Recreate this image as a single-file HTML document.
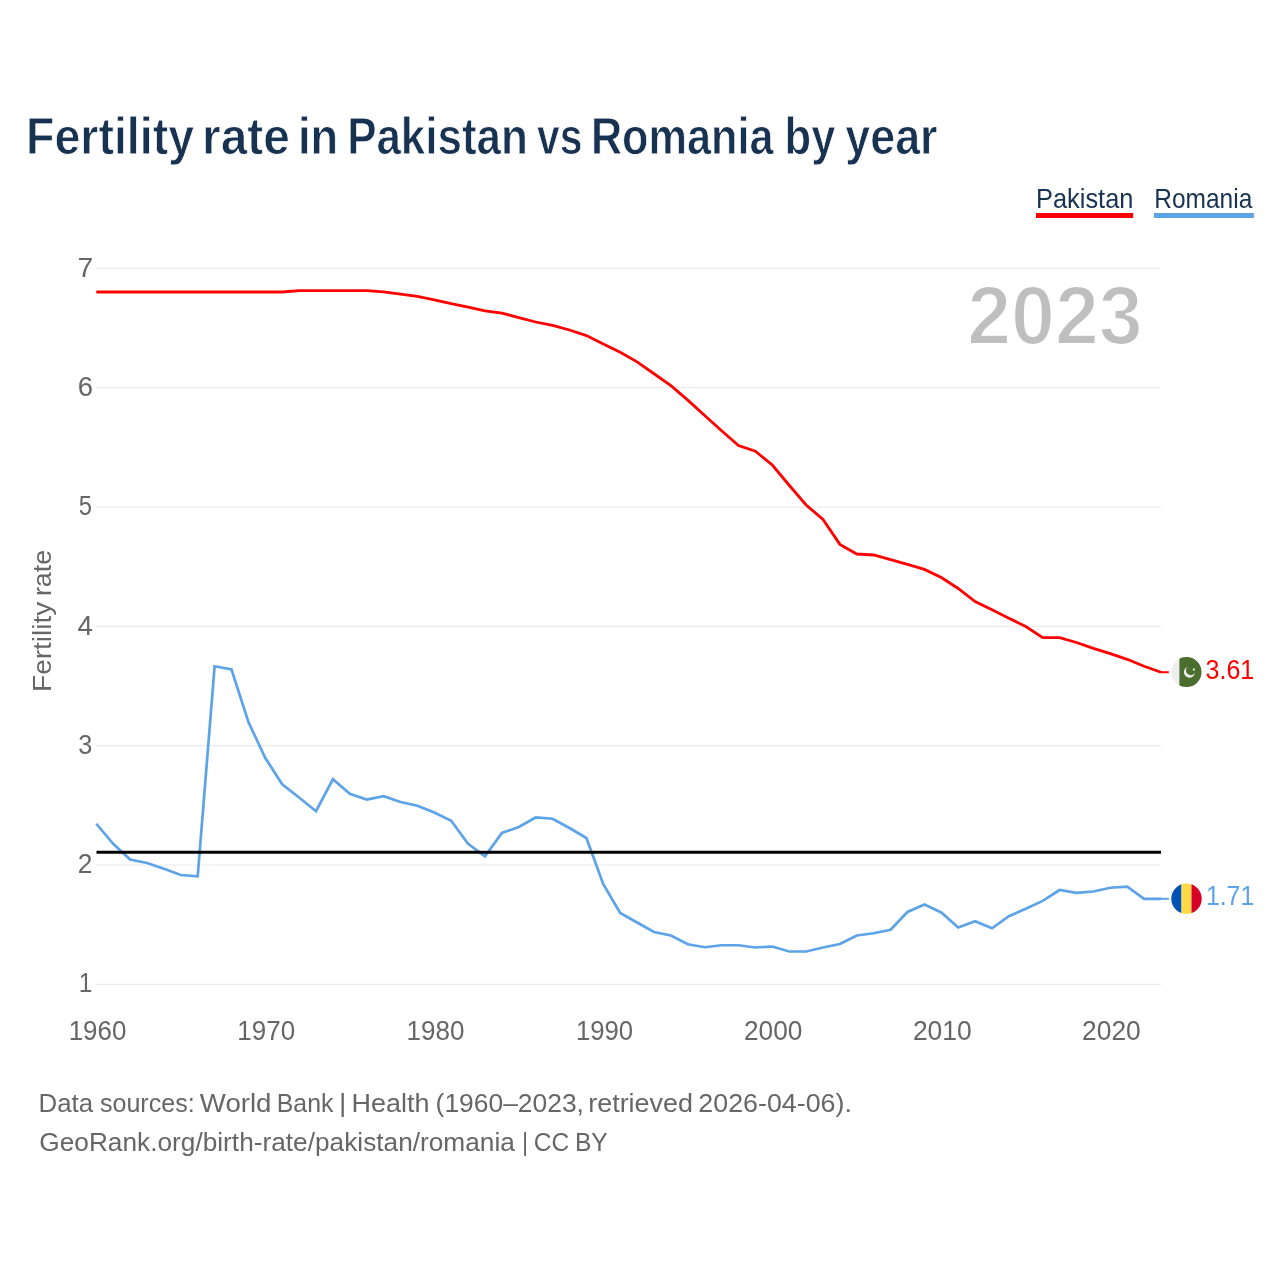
<!DOCTYPE html>
<html><head><meta charset="utf-8">
<style>
html,body{margin:0;padding:0;background:#fff;width:1280px;height:1280px;overflow:hidden}
svg{display:block;will-change:transform}
text{font-family:"Liberation Sans",sans-serif}
</style></head>
<body>
<svg width="1280" height="1280" viewBox="0 0 1280 1280">
<rect width="1280" height="1280" fill="#fff"/>
<text x="25.97" y="154.15" font-size="52" font-weight="bold" fill="#183251" textLength="168.15" lengthAdjust="spacingAndGlyphs" stroke="#fff" stroke-width="0.8">Fertility</text>
<text x="202.09" y="154.15" font-size="52" font-weight="bold" fill="#183251" textLength="87.71" lengthAdjust="spacingAndGlyphs" stroke="#fff" stroke-width="0.8">rate</text>
<text x="298.04" y="154.15" font-size="52" font-weight="bold" fill="#183251" textLength="40.12" lengthAdjust="spacingAndGlyphs" stroke="#fff" stroke-width="0.8">in</text>
<text x="347.14" y="154.15" font-size="52" font-weight="bold" fill="#183251" textLength="180.68" lengthAdjust="spacingAndGlyphs" stroke="#fff" stroke-width="0.8">Pakistan</text>
<text x="537.00" y="154.15" font-size="52" font-weight="bold" fill="#183251" textLength="45.38" lengthAdjust="spacingAndGlyphs" stroke="#fff" stroke-width="0.8">vs</text>
<text x="590.89" y="154.15" font-size="52" font-weight="bold" fill="#183251" textLength="182.62" lengthAdjust="spacingAndGlyphs" stroke="#fff" stroke-width="0.8">Romania</text>
<text x="784.57" y="154.15" font-size="52" font-weight="bold" fill="#183251" textLength="50.84" lengthAdjust="spacingAndGlyphs" stroke="#fff" stroke-width="0.8">by</text>
<text x="845.26" y="154.15" font-size="52" font-weight="bold" fill="#183251" textLength="92.32" lengthAdjust="spacingAndGlyphs" stroke="#fff" stroke-width="0.8">year</text>
<text x="1036.07" y="207.8" font-size="27.3" fill="#183251" textLength="97.33" lengthAdjust="spacingAndGlyphs">Pakistan</text>
<rect x="1036" y="213" width="97.2" height="5" fill="#ff0000"/>
<text x="1154.29" y="207.8" font-size="27.3" fill="#183251" textLength="98.00" lengthAdjust="spacingAndGlyphs">Romania</text>
<rect x="1154" y="213" width="99.9" height="5" fill="#5ca3e8"/>
<g stroke="#ebebeb" stroke-width="1.2"><line x1="96" y1="268.4" x2="1161" y2="268.4"/><line x1="96" y1="387.7" x2="1161" y2="387.7"/><line x1="96" y1="507.1" x2="1161" y2="507.1"/><line x1="96" y1="626.4" x2="1161" y2="626.4"/><line x1="96" y1="745.7" x2="1161" y2="745.7"/><line x1="96" y1="865.0" x2="1161" y2="865.0"/><line x1="96" y1="984.4" x2="1161" y2="984.4"/></g>
<text x="77.49" y="277.0" font-size="27.5" fill="#666666" textLength="15.68" lengthAdjust="spacingAndGlyphs">7</text>
<text x="77.73" y="396.17" font-size="27.5" fill="#666666" textLength="15.27" lengthAdjust="spacingAndGlyphs">6</text>
<text x="78.65" y="515.34" font-size="27.5" fill="#666666" textLength="13.23" lengthAdjust="spacingAndGlyphs">5</text>
<text x="77.48" y="634.51" font-size="27.5" fill="#666666" textLength="15.31" lengthAdjust="spacingAndGlyphs">4</text>
<text x="78.15" y="753.68" font-size="27.5" fill="#666666" textLength="14.05" lengthAdjust="spacingAndGlyphs">3</text>
<text x="77.68" y="872.85" font-size="27.5" fill="#666666" textLength="14.71" lengthAdjust="spacingAndGlyphs">2</text>
<text x="78.87" y="992.02" font-size="27.5" fill="#666666" textLength="13.57" lengthAdjust="spacingAndGlyphs">1</text>
<g transform="rotate(-90)">
<text x="-691.94" y="50.75" font-size="25.6" fill="#666666" textLength="90.10" lengthAdjust="spacingAndGlyphs">Fertility</text>
<text x="-596.14" y="50.75" font-size="25.6" fill="#666666" textLength="46.20" lengthAdjust="spacingAndGlyphs">rate</text>
</g>
<text x="68.66" y="1039.9" font-size="27.3" fill="#666666" textLength="57.67" lengthAdjust="spacingAndGlyphs">1960</text>
<text x="237.35" y="1039.9" font-size="27.3" fill="#666666" textLength="57.78" lengthAdjust="spacingAndGlyphs">1970</text>
<text x="406.55" y="1039.9" font-size="27.3" fill="#666666" textLength="57.83" lengthAdjust="spacingAndGlyphs">1980</text>
<text x="575.97" y="1039.9" font-size="27.3" fill="#666666" textLength="57.15" lengthAdjust="spacingAndGlyphs">1990</text>
<text x="743.94" y="1039.9" font-size="27.3" fill="#666666" textLength="58.40" lengthAdjust="spacingAndGlyphs">2000</text>
<text x="912.88" y="1039.9" font-size="27.3" fill="#666666" textLength="58.87" lengthAdjust="spacingAndGlyphs">2010</text>
<text x="1082.08" y="1039.9" font-size="27.3" fill="#666666" textLength="58.67" lengthAdjust="spacingAndGlyphs">2020</text>
<text x="967.24" y="343.6" font-size="83.2" font-weight="bold" fill="#bfbfbf" textLength="175.49" lengthAdjust="spacingAndGlyphs" stroke="#fff" stroke-width="2.2">2023</text>
<polyline points="96.30,292.00 113.20,292.00 130.10,292.00 147.00,292.00 163.90,292.00 180.80,292.00 197.70,292.00 214.60,292.00 231.50,292.00 248.40,292.00 265.30,292.00 282.20,292.00 299.10,290.60 316.00,290.60 332.90,290.60 349.80,290.60 366.70,290.60 383.60,291.90 400.50,294.10 417.40,296.30 434.30,299.95 451.20,303.60 468.10,307.20 485.00,310.90 501.90,313.20 518.80,317.60 535.70,322.00 552.60,325.40 569.50,330.00 586.40,335.60 603.30,344.10 620.20,352.25 637.10,361.90 654.00,373.75 670.90,385.60 687.80,400.10 704.70,415.50 721.60,430.70 738.50,445.60 755.40,451.25 772.30,465.00 789.20,485.25 806.10,505.00 823.00,519.40 839.90,544.40 856.80,554.00 873.70,555.00 890.60,559.60 907.50,564.40 924.40,569.40 941.30,577.50 958.20,588.50 975.10,601.50 992.00,609.80 1008.90,618.20 1025.80,626.50 1042.70,637.60 1059.60,637.60 1076.50,642.50 1093.40,648.40 1110.30,653.60 1127.20,659.30 1144.10,666.25 1161.00,672.20" fill="none" stroke="#ff0000" stroke-width="2.8"/>
<polyline points="96.30,823.75 113.20,843.75 130.10,859.50 147.00,863.00 163.90,868.75 180.80,875.00 197.70,876.25 214.60,666.25 231.50,669.50 248.40,722.00 265.30,758.00 282.20,784.25 299.10,797.50 316.00,811.25 332.90,779.25 349.80,793.75 366.70,799.50 383.60,796.25 400.50,802.00 417.40,805.75 434.30,812.50 451.20,820.75 468.10,843.75 485.00,856.25 501.90,833.00 518.80,827.00 535.70,817.50 552.60,818.75 569.50,828.00 586.40,838.00 603.30,884.25 620.20,913.00 637.10,922.50 654.00,932.00 670.90,935.50 687.80,944.25 704.70,947.25 721.60,945.25 738.50,945.25 755.40,947.50 772.30,946.50 789.20,951.50 806.10,951.50 823.00,947.50 839.90,944.00 856.80,935.50 873.70,933.25 890.60,929.75 907.50,912.00 924.40,904.50 941.30,912.50 958.20,927.50 975.10,921.25 992.00,928.30 1008.90,916.25 1025.80,908.75 1042.70,900.90 1059.60,890.00 1076.50,892.80 1093.40,891.50 1110.30,887.75 1127.20,886.60 1144.10,898.80 1161.00,898.80" fill="none" stroke="#5ca3e8" stroke-width="2.7"/>
<line x1="96.5" y1="852.3" x2="1161" y2="852.3" stroke="#000" stroke-width="3"/>
<line x1="1161" y1="672.2" x2="1168.8" y2="672.2" stroke="#ff0000" stroke-width="2"/>
<line x1="1161" y1="898.8" x2="1169" y2="898.8" stroke="#5ca3e8" stroke-width="2"/>
<defs>
<clipPath id="cp"><circle cx="1186.5" cy="672.1" r="15"/></clipPath>
<clipPath id="cr"><circle cx="1186.5" cy="898.8" r="15.2"/></clipPath>
</defs>
<g clip-path="url(#cp)">
<rect x="1171" y="656" width="31" height="32" fill="#eeeeee"/>
<rect x="1179.4" y="656" width="23" height="32" fill="#496e2d"/>
<circle cx="1189.5" cy="672.1" r="5.6" fill="#eeeeee"/>
<circle cx="1190.9" cy="670.4" r="4.9" fill="#496e2d"/>
<path d="M1193.8 667.6 L1194.3 668.7 L1195.5 668.9 L1194.6 669.6 L1194.9 670.8 L1193.8 670.2 L1192.8 670.8 L1193.1 669.6 L1192.2 668.9 L1193.4 668.7 Z" fill="#eeeeee"/>
</g>
<g clip-path="url(#cr)">
<rect x="1171" y="883" width="10.5" height="32" fill="#0052b4"/>
<rect x="1181.5" y="883" width="10" height="32" fill="#ffda44"/>
<rect x="1191.5" y="883" width="11" height="32" fill="#d80027"/>
</g>
<text x="1205.56" y="679" font-size="27.3" fill="#ff0000" textLength="48.66" lengthAdjust="spacingAndGlyphs">3.61</text>
<text x="1205.94" y="904.9" font-size="27.3" fill="#5ca3e8" textLength="48.27" lengthAdjust="spacingAndGlyphs">1.71</text>
<text x="38.53" y="1111.6" font-size="26.4" fill="#666666" textLength="54.56" lengthAdjust="spacingAndGlyphs">Data</text>
<text x="99.91" y="1111.6" font-size="26.4" fill="#666666" textLength="94.83" lengthAdjust="spacingAndGlyphs">sources:</text>
<text x="199.86" y="1111.6" font-size="26.4" fill="#666666" textLength="71.64" lengthAdjust="spacingAndGlyphs">World</text>
<text x="276.76" y="1111.6" font-size="26.4" fill="#666666" textLength="56.66" lengthAdjust="spacingAndGlyphs">Bank</text>
<text x="339.13" y="1111.6" font-size="26.4" fill="#666666" textLength="7.33" lengthAdjust="spacingAndGlyphs">|</text>
<text x="351.59" y="1111.6" font-size="26.4" fill="#666666" textLength="77.91" lengthAdjust="spacingAndGlyphs">Health</text>
<text x="435.62" y="1111.6" font-size="26.4" fill="#666666" textLength="148.33" lengthAdjust="spacingAndGlyphs">(1960–2023,</text>
<text x="588.25" y="1111.6" font-size="26.4" fill="#666666" textLength="104.70" lengthAdjust="spacingAndGlyphs">retrieved</text>
<text x="698.36" y="1111.6" font-size="26.4" fill="#666666" textLength="153.49" lengthAdjust="spacingAndGlyphs">2026-04-06).</text>
<text x="39.29" y="1150.6" font-size="26.4" fill="#666666" textLength="475.57" lengthAdjust="spacingAndGlyphs">GeoRank.org/birth-rate/pakistan/romania</text>
<text x="522.04" y="1150.6" font-size="26.4" fill="#666666" textLength="6.11" lengthAdjust="spacingAndGlyphs">|</text>
<text x="533.87" y="1150.6" font-size="26.4" fill="#666666" textLength="35.43" lengthAdjust="spacingAndGlyphs">CC</text>
<text x="574.93" y="1150.6" font-size="26.4" fill="#666666" textLength="32.85" lengthAdjust="spacingAndGlyphs">BY</text>
</svg>
</body></html>
